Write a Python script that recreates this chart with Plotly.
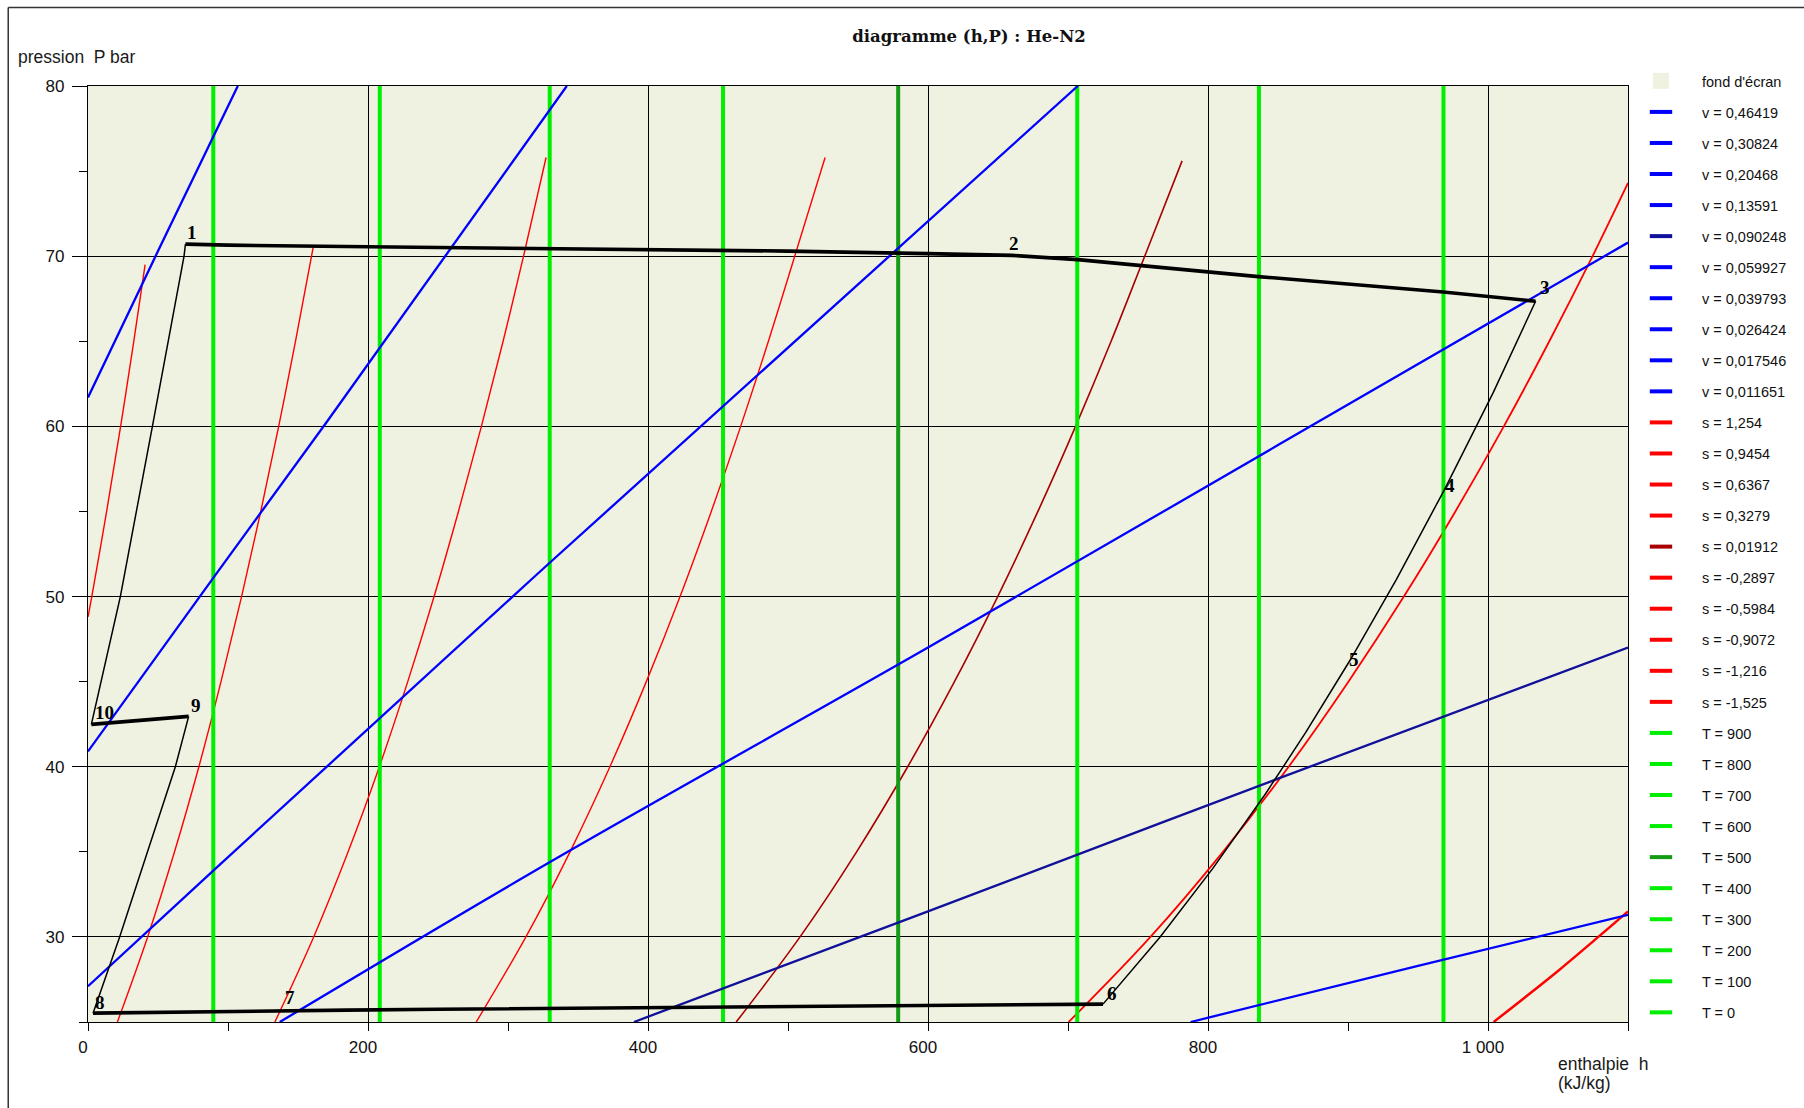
import plotly.graph_objects as go

# ---------------- axes ----------------
H_RANGE = [0, 1100]
P_RANGE = [25, 80]
X_TICKVALS = [0, 200, 400, 600, 800, 1000]
X_TICKTEXT = ["0", "200", "400", "600", "800", "1 000"]
Y_TICKVALS = [30, 40, 50, 60, 70, 80]
Y_TICKTEXT = ["30", "40", "50", "60", "70", "80"]

# ---------------- isotherms (vertical) ----------------
T_LEGEND = [900, 800, 700, 600, 500, 400, 300, 200, 100, 0]
T_VISIBLE = [100, 200, 300, 400, 500, 600, 700, 800]
T_VISIBLE_H = [89.5, 208.4, 329.8, 453.6, 578.7, 706.6, 836.4, 968.2]

# ---------------- isochores (blue) ----------------
V_LEGEND = ["0,46419", "0,30824", "0,20468", "0,13591", "0,090248",
            "0,059927", "0,039793", "0,026424", "0,017546", "0,011651"]
V_013591_H = [787.6, 950, 1100]
V_013591_P = [25, 28.3, 31.3]
V_090248_H = [390, 600, 850, 1100]
V_090248_P = [25, 31.5, 39.3, 47.0]
V_059927_H = [137, 330, 600, 850, 1100]
V_059927_P = [25, 34.4, 47.0, 58.9, 70.8]
V_039793_H = [0, 89.5, 330, 707]
V_039793_P = [27.1, 33.9, 52.0, 80]
V_026424_H = [0, 89.5, 170, 342]
V_026424_P = [40.9, 51.1, 60.2, 80]
V_017546_H = [0, 50, 107]
V_017546_P = [61.7, 70.3, 80]

# ---------------- isentropes (red) ----------------
S_LEGEND = ["1,254", "0,9454", "0,6367", "0,3279", "0,01912",
            "-0,2897", "-0,5984", "-0,9072", "-1,216", "-1,525"]
S_06367_H = [1004, 1050, 1078.8, 1100]
S_06367_P = [25, 28.0, 30, 31.5]
S_03279_H = [700.5, 758.9, 810.7, 857.6, 900.3, 939.9, 976.7, 1011.3, 1043.8, 1074.7, 1100]
S_03279_P = [25, 30, 35, 40, 45, 50, 55, 60, 65, 70, 74.3]
S_001912_H = [463, 508.6, 549.0, 585.5, 618.9, 649.8, 678.5, 705.4, 730.8, 754.8, 781.5]
S_001912_P = [25, 30, 35, 40, 45, 50, 55, 60, 65, 70, 75.6]
S_m02897_H = [277.3, 312.8, 344.3, 372.8, 398.8, 422.9, 445.2, 466.2, 486.0, 504.8, 526.5]
S_m02897_P = [25, 30, 35, 40, 45, 50, 55, 60, 65, 70, 75.8]
S_m05984_H = [133.5, 161.2, 185.8, 208.1, 228.4, 247.2, 264.6, 281.0, 296.5, 311.1, 327.2]
S_m05984_P = [25, 30, 35, 40, 45, 50, 55, 60, 65, 70, 75.8]
S_m09072_H = [21, 42.6, 61.8, 79.2, 95.0, 109.7, 123.4, 136.2, 148.2, 160.8]
S_m09072_P = [25, 30, 35, 40, 45, 50, 55, 60, 65, 70.5]
S_m1216_H = [0, 2.7, 13.3, 23.3, 32.7, 40.8]
S_m1216_P = [48.8, 50, 55, 60, 65, 69.5]

# ---------------- cycle (black) ----------------
TOP_H = [69.6, 100, 200, 350, 500, 600, 660, 707, 836, 968, 1034]          # 1 -> 2 -> 3
TOP_P = [70.71, 70.65, 70.55, 70.45, 70.3, 70.15, 70.05, 69.8, 68.8, 67.9, 67.35]
EXP_H = [1034, 1003.8, 969, 934.5, 901.8, 869.7, 841, 803.2, 765.8, 725]  # 3 -> 4 -> 5 -> 6
EXP_P = [67.35, 62, 56.3, 51, 46.3, 42, 38.4, 34, 30, 26.05]
BOT_H = [725, 600, 450, 375, 250, 185, 115, 70, 3.6]                        # 6 -> 7 -> 8
BOT_P = [26.05, 25.98, 25.9, 25.87, 25.75, 25.7, 25.62, 25.55, 25.52]
C89_H = [3.6, 22.6, 42.5, 62.4, 71.9]                                       # 8 -> 9
C89_P = [25.52, 30, 35, 40, 42.96]
HP_H = [71.9, 2.4]                                                         # 9 -> 10
HP_P = [42.96, 42.49]
C101_H = [2.4, 23.1, 46, 68.6, 69.6]                                        # 10 -> 1
C101_P = [42.49, 50, 60, 70, 70.71]

CYCLE_LABELS = ["1", "2", "3", "4", "5", "6", "7", "8", "9", "10"]
LABEL_H = [74.6, 661.7, 1040.6, 973.2, 904.2, 731.4, 144.1, 8.4, 77.4, 11.9]
LABEL_P = [71.39, 70.72, 68.15, 56.5, 46.3, 26.7, 26.46, 26.17, 43.61, 43.18]

# ---------------- styles ----------------
BG = "#eff2e1"
BLUE = "#0000ff"
NAVY = "#10109a"
RED = "#ff0000"
DARKRED = "#a80000"
LIME = "#00ee00"
DARKGREEN = "#149a14"

fig = go.Figure()

# isentropes
red_sets = [
    ("s = 0,6367", S_06367_H, S_06367_P, RED, 2.5, "s2"),
    ("s = 0,3279", S_03279_H, S_03279_P, RED, 1.8, "s3"),
    ("s = 0,01912", S_001912_H, S_001912_P, DARKRED, 1.6, "s4"),
    ("s = -0,2897", S_m02897_H, S_m02897_P, RED, 1.4, "s5"),
    ("s = -0,5984", S_m05984_H, S_m05984_P, RED, 1.4, "s6"),
    ("s = -0,9072", S_m09072_H, S_m09072_P, RED, 1.4, "s7"),
    ("s = -1,216", S_m1216_H, S_m1216_P, RED, 1.4, "s8"),
]
for name, hx, py, col, w, grp in red_sets:
    fig.add_trace(go.Scatter(x=hx, y=py, mode="lines", name=name, legendgroup=grp,
                             showlegend=False, line=dict(color=col, width=w, shape="spline"),
                             hoverinfo="skip"))

# isotherms
for T, h in zip(T_VISIBLE, T_VISIBLE_H):
    col = DARKGREEN if T == 500 else LIME
    fig.add_trace(go.Scatter(x=[h, h], y=P_RANGE, mode="lines", name=f"T = {T}",
                             legendgroup=f"T{T}", showlegend=False,
                             line=dict(color=col, width=4), hoverinfo="skip"))

# isochores
blue_sets = [
    ("v = 0,13591", V_013591_H, V_013591_P, BLUE, "v3"),
    ("v = 0,090248", V_090248_H, V_090248_P, NAVY, "v4"),
    ("v = 0,059927", V_059927_H, V_059927_P, BLUE, "v5"),
    ("v = 0,039793", V_039793_H, V_039793_P, BLUE, "v6"),
    ("v = 0,026424", V_026424_H, V_026424_P, BLUE, "v7"),
    ("v = 0,017546", V_017546_H, V_017546_P, BLUE, "v8"),
]
for name, hx, py, col, grp in blue_sets:
    fig.add_trace(go.Scatter(x=hx, y=py, mode="lines", name=name, legendgroup=grp,
                             showlegend=False, line=dict(color=col, width=2.3, shape="spline"),
                             hoverinfo="skip"))

# cycle
for hx, py, w in [(TOP_H, TOP_P, 3.6), (EXP_H, EXP_P, 1.5), (BOT_H, BOT_P, 3.6),
                  (C89_H, C89_P, 1.5), (HP_H, HP_P, 3.6), (C101_H, C101_P, 1.5)]:
    fig.add_trace(go.Scatter(x=hx, y=py, mode="lines", showlegend=False,
                             line=dict(color="black", width=w), hoverinfo="skip"))

# legend entries
def legend_entry(name, color, grp, symbol="line-ew"):
    if symbol == "square":
        marker = dict(symbol="square", size=16, color=color, line=dict(width=0))
    else:
        marker = dict(symbol="line-ew", size=16, line=dict(width=4, color=color))
    fig.add_trace(go.Scatter(x=[None], y=[None], mode="markers", name=name,
                             legendgroup=grp, showlegend=True, marker=marker))

legend_entry("fond d'écran", BG, "bg", "square")
for i, v in enumerate(V_LEGEND):
    legend_entry(f"v = {v}", NAVY if v == "0,090248" else BLUE, f"v{i}")
for i, s in enumerate(S_LEGEND):
    legend_entry(f"s = {s}", DARKRED if s == "0,01912" else RED, f"s{i}")
for T in T_LEGEND:
    legend_entry(f"T = {T}", DARKGREEN if T == 500 else LIME, f"T{T}")

# cycle labels
for lab, h, p in zip(CYCLE_LABELS, LABEL_H, LABEL_P):
    fig.add_annotation(x=h, y=p, text=lab, showarrow=False, xanchor="center", yanchor="middle",
                       font=dict(family="Liberation Serif, Times New Roman, serif", size=19,
                                 color="black", weight="bold"))

# axis titles
fig.add_annotation(xref="paper", yref="paper", x=-0.0468, y=1.031, xanchor="left", yanchor="middle",
                   text="pression\u00a0 P bar", showarrow=False,
                   font=dict(family="Liberation Sans, Arial, sans-serif", size=17.5, color="#1a1a1a"))
fig.add_annotation(xref="paper", yref="paper", x=0.9532, y=-0.0452, xanchor="left", yanchor="middle",
                   text="enthalpie\u00a0 h", showarrow=False,
                   font=dict(family="Liberation Sans, Arial, sans-serif", size=17.5, color="#1a1a1a"))
fig.add_annotation(xref="paper", yref="paper", x=0.9532, y=-0.0655, xanchor="left", yanchor="middle",
                   text="(kJ/kg)", showarrow=False,
                   font=dict(family="Liberation Sans, Arial, sans-serif", size=17.5, color="#1a1a1a"))

# outer frame (top & left)
fig.add_shape(type="line", xref="paper", yref="paper", x0=-0.0518, x1=-0.0518, y0=-0.2, y1=1.0839,
              line=dict(color="#333333", width=1.5))
fig.add_shape(type="line", xref="paper", yref="paper", x0=-0.0518, x1=1.2, y0=1.0839, y1=1.0839,
              line=dict(color="#333333", width=1.5))

tick_font = dict(family="Liberation Sans, Arial, sans-serif", size=17, color="#111111")

fig.update_layout(
    width=1804, height=1108,
    margin=dict(l=88, r=176, t=86, b=86, autoexpand=False),
    paper_bgcolor="white", plot_bgcolor=BG,
    title=dict(text="diagramme (h,P) : He-N2", xref="container", yref="container",
               x=969 / 1804, xanchor="center", y=1 - 36.5 / 1108, yanchor="middle",
               font=dict(family="DejaVu Serif, serif", size=16.5, color="#111111", weight="bold")),
    showlegend=True,
    legend=dict(x=0.9948, xanchor="left", y=1.0225, yanchor="top",
                font=dict(family="Liberation Sans, Arial, sans-serif", size=14.5, color="#111111"),
                bgcolor="rgba(0,0,0,0)", borderwidth=0, tracegroupgap=9.2, itemwidth=72,
                itemsizing="trace", maxheight=1100),
    xaxis=dict(range=H_RANGE, tickvals=X_TICKVALS, ticktext=X_TICKTEXT, ticks="outside",
               ticklen=8, tickwidth=1, tickcolor="black", showgrid=True, gridcolor="black",
               gridwidth=1, zeroline=False, showline=True, linecolor="black", linewidth=1.3,
               mirror=True, tickfont=tick_font, ticklabelshift=-5, ticklabelstandoff=1,
               minor=dict(dtick=100, tick0=0, ticks="outside", ticklen=8, tickcolor="black",
                          tickwidth=1, showgrid=False)),
    yaxis=dict(range=P_RANGE, tickvals=Y_TICKVALS, ticktext=Y_TICKTEXT, ticks="outside",
               ticklen=15, tickwidth=1, tickcolor="black", showgrid=True, gridcolor="black",
               gridwidth=1, zeroline=False, showline=True, linecolor="black", linewidth=1.3,
               mirror=True, tickfont=tick_font, ticklabelstandoff=4,
               minor=dict(dtick=5, tick0=0, ticks="outside", ticklen=8, tickcolor="black",
                          tickwidth=1, showgrid=False)),
)

fig.write_html("out.html", config={"displayModeBar": False},
               post_script="document.body.style.margin='0';document.body.style.overflow='hidden';")
